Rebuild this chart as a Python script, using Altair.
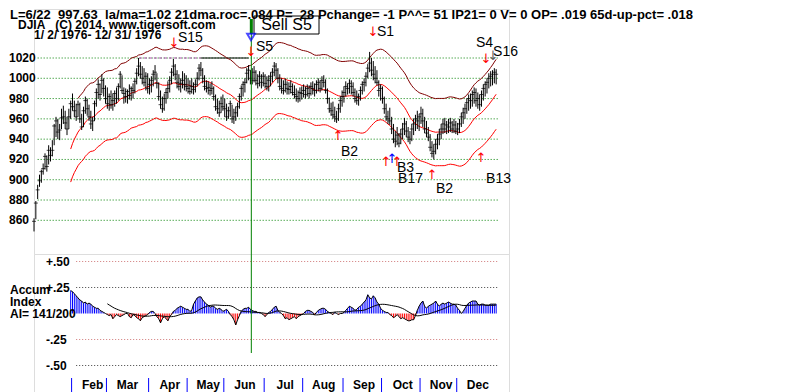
import altair as alt
import pandas as pd

FONT = "Liberation Sans"

# ---------------- data ----------------
# DJIA 1976, one entry per trading day (index 0 = 2 Jan 1976)
high = [862, 879, 895, 905, 910, 916, 926, 924, 934, 932, 939, 955, 962, 960, 955, 970, 973, 968, 962, 970, 978,
        985, 978, 975, 978, 976, 965, 972, 982, 980, 974, 968, 962, 978, 990, 999, 995, 1004, 1000, 993,
        991, 985, 988, 985, 988, 991, 995, 1007, 1003, 991, 990, 989, 994, 992, 995, 1000, 1010, 1020, 1016, 1012, 1010, 1006, 1005,
        1000, 1002, 1008, 1013, 1005, 996, 988, 982, 985, 990, 997, 1002, 1010, 1019, 1014, 1008, 1004, 1000, 1007, 1005, 1003,
        1000, 998, 1000, 996, 999, 1006, 1014, 1016, 1010, 1003, 998, 997, 995, 997, 992, 984, 980, 978, 982, 984,
        980, 975, 972, 978, 974, 970, 972, 976, 985, 993, 997, 1000, 1010, 1013, 1008, 1010, 1012, 1008, 1004, 1007, 1004, 1006,
        1004, 1002, 1003, 1006, 1010, 1016, 1015, 1010, 1004, 1000, 998, 1000, 997, 996, 998, 995, 993, 990, 988, 991, 992,
        994, 992, 994, 993, 996, 997, 995, 998, 1000, 998, 1002, 1003, 999, 990, 981, 976, 977, 972, 968, 975, 982, 988,
        992, 997, 995, 999, 998, 996, 990, 988, 985, 992, 997, 1000, 1006, 1014, 1026, 1020, 1017, 1012, 1008, 998, 994,
        992, 982, 975, 968, 971, 962, 955, 948, 952, 946, 950, 956, 961, 958, 952, 948, 955, 960, 964, 968, 965,
        972, 970, 962, 958, 952, 945, 938, 935, 940, 945, 950, 955, 960, 961, 958, 960, 961, 958, 960, 958,
        956, 960, 966, 971, 975, 980, 984, 985, 988, 991, 990, 986, 984, 988, 994, 997, 1000, 1005, 1007, 1008, 1010, 1009]
low = [849, 861, 881, 893, 897, 905, 910, 908, 915, 918, 923, 934, 942, 940, 939, 950, 955, 950, 944, 950, 960,
       968, 962, 958, 962, 956, 949, 952, 965, 963, 958, 950, 948, 958, 972, 980, 978, 985, 982, 975,
       970, 968, 970, 968, 972, 975, 978, 990, 985, 975, 976, 975, 979, 978, 980, 985, 994, 1002, 1000, 994, 992, 988, 985,
       984, 986, 992, 998, 990, 978, 970, 966, 968, 975, 980, 986, 994, 1002, 998, 990, 988, 986, 990, 988, 987,
       985, 984, 985, 984, 986, 992, 998, 1002, 995, 988, 986, 984, 983, 984, 978, 968, 965, 962, 966, 968,
       962, 958, 960, 962, 956, 955, 958, 962, 970, 978, 982, 986, 995, 998, 994, 994, 996, 993, 990, 992, 990, 992,
       990, 988, 987, 992, 996, 1002, 1000, 995, 988, 985, 984, 986, 984, 984, 985, 983, 980, 977, 976, 977, 979,
       981, 980, 982, 980, 983, 984, 982, 985, 987, 986, 988, 991, 985, 975, 966, 963, 960, 957, 956, 958, 966, 972,
       976, 982, 984, 985, 984, 982, 976, 974, 973, 978, 984, 987, 992, 1000, 1006, 1002, 998, 995, 993, 982, 978,
       975, 965, 958, 955, 954, 945, 936, 932, 934, 932, 935, 940, 944, 942, 937, 935, 938, 944, 948, 950, 948,
       955, 952, 946, 942, 938, 928, 922, 920, 925, 930, 934, 940, 945, 946, 945, 946, 947, 946, 946, 945,
       944, 946, 952, 955, 960, 965, 968, 970, 972, 975, 972, 970, 968, 972, 978, 982, 985, 990, 992, 993, 995, 994]
close = [859, 877, 890, 899, 908, 911, 923, 913, 929, 924, 929, 953, 958, 947, 949, 961, 962, 956, 950, 962, 975,
         972, 968, 962, 974, 960, 952, 968, 978, 970, 962, 955, 958, 975, 986, 994, 984, 998, 990, 980,
         975, 982, 974, 978, 985, 980, 992, 1004, 988, 985, 982, 987, 983, 990, 988, 997, 1005, 1012, 1004, 1000, 996, 1002, 990,
         994, 998, 1004, 1006, 995, 982, 974, 970, 980, 986, 990, 998, 1006, 1012, 1004, 996, 992, 995, 998, 994, 992,
         990, 987, 992, 989, 994, 1000, 1010, 1008, 1000, 992, 990, 991, 988, 990, 982, 972, 970, 966, 975, 972,
         970, 962, 968, 975, 960, 962, 966, 972, 982, 990, 994, 996, 1005, 1008, 1000, 998, 1006, 998, 995, 1002, 996, 1002,
         995, 992, 998, 1002, 1006, 1012, 1008, 1000, 992, 990, 988, 994, 990, 989, 992, 986, 984, 982, 980, 986, 985,
         988, 984, 990, 985, 992, 990, 988, 994, 996, 990, 998, 996, 988, 980, 970, 968, 964, 962, 960, 970, 978, 982,
         986, 992, 990, 995, 992, 986, 980, 978, 982, 988, 994, 996, 1002, 1010, 1015, 1008, 1004, 1000, 996, 988, 990,
         980, 970, 962, 960, 958, 950, 940, 938, 944, 936, 945, 950, 955, 948, 942, 940, 950, 955, 960, 958, 962,
         965, 958, 950, 946, 942, 932, 926, 928, 935, 940, 945, 950, 955, 950, 954, 952, 956, 950, 954, 948,
         950, 955, 962, 966, 970, 976, 980, 978, 984, 986, 978, 980, 974, 984, 990, 994, 996, 1000, 1002, 1004, 1006, 1004]

# Accumulation index, trading days 20 .. 252
accum_first_day = 20
accum = [.22, .21, .19, .17, .15, .13, .12, .10, .11, .09, .10, .09, .07, .06, .05, .05, .03, .02, .01, .00,
         -.01, -.02, -.01, -.05, -.03, -.01, -.02, -.03, -.02, -.01, .00, .00, -.03, -.04, -.01, -.02, -.04, -.05, -.07, -.04,
         -.03, -.02, -.01, .01, .02, .02, .00, -.03, -.05, -.09, -.05, -.03, -.05, -.07, -.03, -.01, .02, .03, .05, .06,
         .07, .06, .05, .04, .04, .02, .03, .09, .12, .15, .16, .16, .13, .11, .09, .08, .06, .07, .07, .05,
         .04, .05, .04, .02, .03, .04, .02, -.01, -.03, -.06, -.11, -.06, -.02, .02, .04, .05, .05, .06, .04, .03,
         .02, .02, .01, .01, .00, -.01, -.03, -.01, .01, .02, .04, .06, .07, .03, .01, .00, -.02, -.05, -.04, -.06,
         -.05, -.04, -.03, -.05, -.03, -.02, -.01, .00, .02, .03, .03, .02, .01, -.01, .01, .03, .04, .05, .05, .04,
         .02, .01, .00, -.01, .01, .00, -.01, .00, .00, .01, .03, .05, .07, .06, .05, .03, .04, .06, .07, .09,
         .11, .13, .18, .15, .14, .17, .15, .11, .09, .05, .03, .02, .01, .01, -.01, -.02, -.04, -.03, -.01, -.03,
         -.05, -.04, -.05, -.06, -.07, -.07, -.06, -.06, -.02, .03, .07, .10, .12, .07, .05, .07, .08, .09, .10, .12,
         .09, .07, .09, .10, .09, .10, .11, .10, .09, .09, .08, .05, .03, .00, .02, .05, .08, .10, .11, .12,
         .12, .12, .09, .08, .09, .09, .08, .08, .08, .09, .09, .09, .09]

month_names = ["Feb", "Mar", "Apr", "May", "Jun", "Jul", "Aug", "Sep", "Oct", "Nov", "Dec"]
month_first_day = [21, 40, 63, 84, 104, 126, 147, 169, 190, 211, 231]

price_levels = [860, 880, 900, 920, 940, 960, 980, 1000, 1020]
accum_levels = [0.5, 0.25, -0.25, -0.5]
accum_level_text = ["+.50", "+.25", "-.25", "-.50"]
accum_level_color = ["#d07878", "#404040", "#d07878", "#404040"]

sig_text = ["S15", "S5", "S1", "S4", "S16", "B2", "B3", "B17", "B2", "B13"]
sig_text_day = [78.5, 121, 187, 241, 250.3, 167.4, 197.9, 198.5, 219.2, 246.5]
sig_text_price = [1039.7, 1030.8, 1045.6, 1034.8, 1025.9, 927.3, 911.6, 900.7, 890.9, 900.7]

arrow_day = [76.3, 118.3, 184.8, 246.5, 250.3, 165.8, 191.9, 195.2, 197.9, 217, 243.7]
arrow_price = [1034.8, 1025.9, 1045.6, 1019, 1022, 943.1, 917.5, 920.4, 917.5, 904.7, 921.4]
arrow_glyph = ["↓", "↓", "↓", "↓", "↓", "↑", "↑", "↑", "↑", "↑", "↑"]
arrow_color = ["#ff0000", "#ff0000", "#ff0000", "#ff0000", "#606060", "#ff0000", "#ff0000", "#0000ff", "#ff0000", "#ff0000", "#ff0000"]

header1 = "L=6/22\u00a0\u00a0997.63\u00a0\u00a0la/ma=1.02 21dma.roc=.084 P=\u00a0\u00a028 Pchange= -1 P^^= 51 IP21= 0 V= 0 OP= .019 65d-up-pct= .018"
header2 = "DJIA\u00a0\u00a0\u00a0(C) 2014, www.tigersoft.com"
header3 = "1/ 2/ 1976- 12/ 31/ 1976"
cursor_day = 118.5
resist_level = 1020

# ---------------- layout / scales ----------------
W = 475
H_TOP, H_BOT = 245, 139
OX, OY_TOP = 33, 8          # page position of top panel origin
OY_BOT = OY_TOP + H_TOP     # page y of bottom panel origin

X = alt.Scale(domain=[0, 259], nice=False, zero=False)
# price: 1020 sits 49 px below the panel top, 1.0144 px per point
PY = alt.Scale(domain=[1020 - (H_TOP - 49) / 1.0144, 1020 + 49 / 1.0144], nice=False, zero=False)
# accumulation index: zero at page y 312.5, 104 px per unit
ZERO_LOCAL = 312.5 - OY_BOT
AY = alt.Scale(domain=[(ZERO_LOCAL - H_BOT) / 104, ZERO_LOCAL / 104], nice=False, zero=False)


def txt(t, px, py, oy, size=12, bold=True, align="left", color="black", font=FONT):
    return alt.Chart(pd.DataFrame({"t": [t]})).mark_text(
        align=align, baseline="middle", fontSize=size, font=font,
        fontWeight="bold" if bold else "normal", color=color
    ).encode(x=alt.value(px - OX), y=alt.value(py - oy), text="t:N")


price = pd.DataFrame({"i": list(range(len(close))), "high": high, "low": low, "close": close})
acc = pd.DataFrame({"i": list(range(accum_first_day, accum_first_day + len(accum))), "ai": accum})

xi = alt.X("i:Q", scale=X, axis=None)

# ---------- top panel ----------
anchor = alt.Chart(pd.DataFrame({"k": [1]})).mark_rect(opacity=0).encode(
    x=alt.value(-25), x2=alt.value(-24), y=alt.value(0), y2=alt.value(1))

price_grid = alt.Chart(pd.DataFrame({"lvl": price_levels, "a": [2] * 9, "b": [253] * 9})).mark_rule(
    color="#008000", strokeDash=[1, 2], strokeWidth=1
).encode(x=alt.X("a:Q", scale=X, axis=None), x2="b:Q", y=alt.Y("lvl:Q", scale=PY, axis=None))

resist = pd.DataFrame({"a": [57.2, 91], "b": [91, 117], "lvl": [resist_level, resist_level]})
resist_dash = alt.Chart(resist.iloc[[0]]).mark_rule(color="#b050b0", strokeDash=[3, 2]).encode(
    x=alt.X("a:Q", scale=X, axis=None), x2="b:Q", y=alt.Y("lvl:Q", scale=PY, axis=None))
resist_solid = alt.Chart(resist.iloc[[1]]).mark_rule(color="#000000").encode(
    x=alt.X("a:Q", scale=X, axis=None), x2="b:Q", y=alt.Y("lvl:Q", scale=PY, axis=None))

ma_base = alt.Chart(price).transform_window(
    ma="mean(close)", frame=[-20, 0], sort=[alt.SortField("i")]
).transform_filter("datum.i >= 20").transform_calculate(
    upper="datum.ma * 1.035", lower="datum.ma * 0.965")
ma_mid = ma_base.mark_line(color="#ff0000", strokeWidth=1).encode(x=xi, y=alt.Y("ma:Q", scale=PY, axis=None))
ma_low = ma_base.mark_line(color="#ff0000", strokeWidth=1).encode(x=xi, y=alt.Y("lower:Q", scale=PY, axis=None))
ma_up = ma_base.transform_filter("datum.i >= 24").mark_line(color="#800000", strokeWidth=1).encode(
    x=xi, y=alt.Y("upper:Q", scale=PY, axis=None))

bars = alt.Chart(price).mark_rule(color="black", strokeWidth=1).encode(
    x=xi, y=alt.Y("low:Q", scale=PY, axis=None), y2="high:Q")
ticks = alt.Chart(price).mark_tick(orient="horizontal", color="black", size=4, thickness=1).encode(
    x=xi, y=alt.Y("close:Q", scale=PY, axis=None))

cur_df = pd.DataFrame({"d": [cursor_day]})
cursor_top = alt.Chart(cur_df).mark_rule(color="#008000", strokeWidth=1).encode(
    x=alt.X("d:Q", scale=X, axis=None), y=alt.value(10), y2=alt.value(H_TOP))
cursor_thick = alt.Chart(cur_df).mark_rule(color="#008000", strokeWidth=3).encode(
    x=alt.X("d:Q", scale=X, axis=None), y=alt.value(10), y2=alt.value(25))

ylab = alt.Chart(pd.DataFrame({"lvl": price_levels})).mark_text(
    font=FONT, fontSize=12, fontWeight="bold", align="left", baseline="middle"
).encode(x=alt.value(-25), y=alt.Y("lvl:Q", scale=PY, axis=None), text=alt.Text("lvl:Q", format="d"))

sig_df = pd.DataFrame({"d": sig_text_day, "p": sig_text_price, "t": sig_text})
sig_labels = alt.Chart(sig_df).mark_text(font=FONT, fontSize=14, align="left", baseline="middle").encode(
    x=alt.X("d:Q", scale=X, axis=None), y=alt.Y("p:Q", scale=PY, axis=None), text="t:N")
arr_df = pd.DataFrame({"d": arrow_day, "p": arrow_price, "g": arrow_glyph, "c": arrow_color})
arrows = alt.Chart(arr_df).mark_text(font="DejaVu Sans", fontSize=13, baseline="middle").encode(
    x=alt.X("d:Q", scale=X, axis=None), y=alt.Y("p:Q", scale=PY, axis=None), text="g:N",
    color=alt.Color("c:N", scale=None))

box = alt.Chart(pd.DataFrame({"k": [1]})).mark_rect(fill="white", stroke="black", strokeWidth=1).encode(
    x=alt.value(253 - OX), x2=alt.value(318 - OX), y=alt.value(15 - OY_TOP), y2=alt.value(33 - OY_TOP))
tri = alt.Chart(pd.DataFrame({"k": [1]})).mark_point(shape="triangle-down", filled=False, color="#0000ff", size=60).encode(
    x=alt.value(250 - OX), y=alt.value(36 - OY_TOP))

top = alt.layer(
    anchor, price_grid, resist_dash, resist_solid, ma_up, ma_mid, ma_low, bars, ticks,
    cursor_top, cursor_thick, ylab, arrows, sig_labels, box, tri,
    txt("Sell S5", 285.5, 24, OY_TOP, size=16, bold=False, align="center"),
    txt(header1, 9, 14, OY_TOP, size=13),
    txt(header2, 17, 24, OY_TOP),
    txt(header3, 33, 34, OY_TOP),
).properties(width=W, height=H_TOP)

# ---------- bottom panel ----------
acc_grid = alt.Chart(pd.DataFrame({"lvl": accum_levels, "col": accum_level_color,
                                   "a": [23] * 4, "b": [253] * 4})).mark_rule(
    strokeDash=[1, 2], strokeWidth=1
).encode(x=alt.X("a:Q", scale=X, axis=None), x2="b:Q", y=alt.Y("lvl:Q", scale=AY, axis=None),
         color=alt.Color("col:N", scale=None))

acc_bars = alt.Chart(acc).transform_calculate(zero="0").mark_rule(strokeWidth=1).encode(
    x=xi, y=alt.Y("ai:Q", scale=AY, axis=None), y2="zero:Q",
    color=alt.condition("datum.ai >= 0", alt.value("#0000ff"), alt.value("#ff0000")))
acc_line = alt.Chart(acc).mark_line(color="black", strokeWidth=1).encode(
    x=xi, y=alt.Y("ai:Q", scale=AY, axis=None))
acc_ma = alt.Chart(acc).transform_window(
    m="mean(ai)", frame=[-20, 0], sort=[alt.SortField("i")]
).transform_filter("datum.i >= 40").mark_line(color="black", strokeWidth=1).encode(
    x=xi, y=alt.Y("m:Q", scale=AY, axis=None))

cursor_bot = alt.Chart(cur_df).mark_rule(color="#008000", strokeWidth=1).encode(
    x=alt.X("d:Q", scale=X, axis=None), y=alt.value(0), y2=alt.value(352 - OY_BOT))

months = pd.DataFrame({"m": month_names, "s": [d - 0.5 for d in month_first_day],
                       "c": [d + 11 for d in month_first_day]})
month_rules = alt.Chart(months).mark_rule(color="#0000ff", strokeWidth=1).encode(
    x=alt.X("s:Q", scale=X, axis=None), y=alt.value(377 - OY_BOT), y2=alt.value(H_BOT))
month_text = alt.Chart(months).mark_text(font=FONT, fontSize=12, fontWeight="bold", baseline="middle").encode(
    x=alt.X("c:Q", scale=X, axis=None), y=alt.value(384 - OY_BOT), text="m:N")

alab = alt.Chart(pd.DataFrame({"lvl": accum_levels, "t": accum_level_text})).mark_text(
    font=FONT, fontSize=12, fontWeight="bold", align="left", baseline="middle"
).encode(x=alt.value(45 - OX), y=alt.Y("lvl:Q", scale=AY, axis=None), text="t:N")

bottom = alt.layer(
    acc_grid, acc_bars, acc_line, acc_ma, cursor_bot, month_rules, month_text, alab,
    txt("Accum", 9, 289, OY_BOT),
    txt("Index", 9, 301, OY_BOT),
    txt("AI= 141/200", 9, 313, OY_BOT),
).properties(width=W, height=H_BOT)

chart = alt.vconcat(top, bottom, spacing=0, bounds="flush").properties(
    padding=0,
).configure_view(stroke=None).configure(background="white")

chart.save("out.html", embed_options={"renderer": "svg", "actions": False})
